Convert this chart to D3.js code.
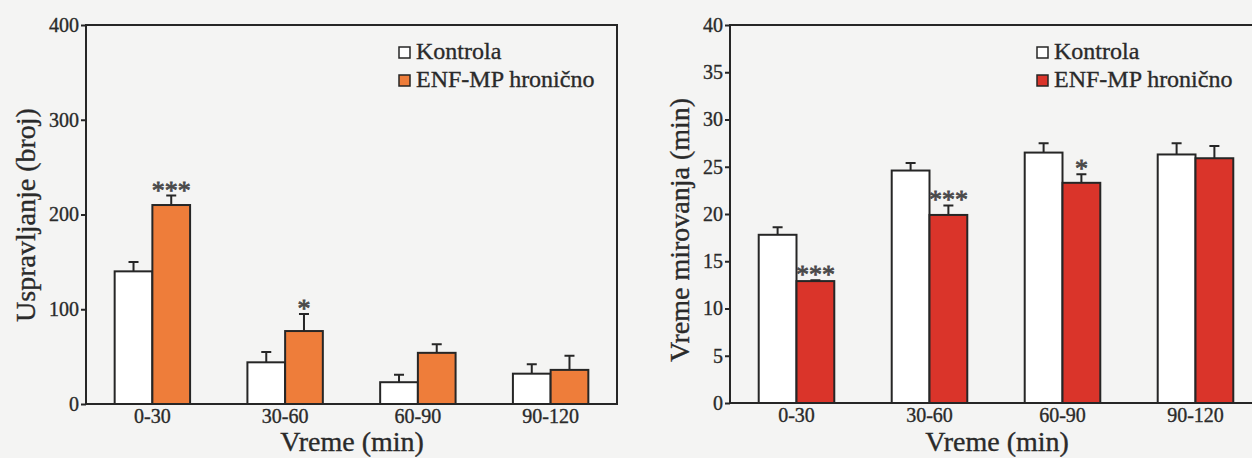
<!DOCTYPE html>
<html>
<head>
<meta charset="utf-8">
<script src="https://cdn.jsdelivr.net/npm/d3@7"></script>
<style>
  body { margin: 0; background: #f4f4f3; }
  svg { display: block; }
  text { font-family: "Liberation Serif", "Tinos", "Times New Roman", "DejaVu Serif", serif; fill: #2a2a2a; stroke: #2a2a2a; stroke-width: 0.35px; }
</style>
</head>
<body>
<script>
// data
const categories = ["0-30", "30-60", "60-90", "90-120"];
const seriesNames = ["Kontrola", "ENF-MP hronično"];

const rearingControl = [140, 44, 23, 32];
const rearingControlErr = [10, 11, 8, 10];
const rearingEnf = [210, 77, 54, 36];
const rearingEnfErr = [10, 18, 9, 15];
const rearingStars = ["***", "*", "", ""];
const rearingTicks = [0, 100, 200, 300, 400];

const immobControl = [17.8, 24.6, 26.5, 26.3];
const immobControlErr = [0.8, 0.8, 1.0, 1.2];
const immobEnf = [12.9, 19.9, 23.3, 25.9];
const immobEnfErr = [0.1, 1.0, 0.9, 1.3];
const immobStars = ["***", "***", "*", ""];
const immobTicks = [0, 5, 10, 15, 20, 25, 30, 35, 40];

const ink = "#262626";
const white = "#ffffff";

const svg = d3.select("body")
    .append("svg")
    .attr("width", 1252)
    .attr("height", 458);

const drawPanel = (p) => {
    const x0 = d3.scaleBand()
        .domain(categories)
        .range([p.left, p.right])
        .paddingInner(0)
        .paddingOuter(0);
    const x1 = d3.scaleBand()
        .domain([0, 1])
        .range([0, x0.bandwidth()])
        .paddingInner(0)
        .paddingOuter(0.76);
    const y = d3.scaleLinear()
        .domain([0, p.yMax])
        .range([p.bottom, p.top]);

    const g = svg.append("g");

    // bars
    const groups = [
        { vals: p.control, errs: p.controlErr, fill: white },
        { vals: p.enf, errs: p.enfErr, fill: p.colour }
    ];
    groups.forEach((s, si) => {
        const rows = categories.map((c, i) => ({ c, v: s.vals[i], e: s.errs[i], star: si === 1 ? p.stars[i] : "" }));
        const cx = d => x0(d.c) + x1(si) + x1.bandwidth() / 2;

        // error bars first so the bar outline sits on top
        g.selectAll(null)
            .data(rows)
            .enter()
            .append("path")
            .attr("d", d => `M${cx(d)},${y(d.v)}V${y(d.v + d.e)}M${cx(d) - 5},${y(d.v + d.e)}H${cx(d) + 5}`)
            .attr("stroke", ink)
            .attr("stroke-width", 2)
            .attr("fill", "none");

        g.selectAll(null)
            .data(rows)
            .enter()
            .append("rect")
            .attr("x", d => x0(d.c) + x1(si))
            .attr("y", d => y(d.v))
            .attr("width", x1.bandwidth())
            .attr("height", d => y(0) - y(d.v))
            .attr("fill", s.fill)
            .attr("stroke", ink)
            .attr("stroke-width", 2);

        g.selectAll(null)
            .data(rows.filter(d => d.star))
            .enter()
            .append("text")
            .attr("x", cx)
            .attr("y", d => y(d.v + d.e) + 3)
            .attr("text-anchor", "middle")
            .attr("font-size", 26)
            .style("fill", "#4a4a4a")
            .style("stroke", "#4a4a4a")
            .style("stroke-width", "0.8px")
            .text(d => d.star);
    });

    // frame
    g.append("rect")
        .attr("x", p.left)
        .attr("y", p.top)
        .attr("width", p.right - p.left)
        .attr("height", p.bottom - p.top)
        .attr("fill", "none")
        .attr("stroke", ink)
        .attr("stroke-width", 2);

    const yAxis = d3.axisLeft(y)
        .tickValues(p.ticks)
        .tickSize(5)
        .tickSizeOuter(0)
        .tickPadding(2);
    const yAxisGroup = g.append("g")
        .attr("transform", `translate(${p.left}, 0)`)
        .call(yAxis);
    yAxisGroup.select(".domain").remove();
    yAxisGroup.selectAll("line").attr("stroke", ink).attr("stroke-width", 2);
    yAxisGroup.selectAll("text")
        .attr("font-size", 20)
        .attr("fill", null);

    const xAxis = d3.axisBottom(x0).tickSize(0).tickSizeOuter(0);
    const xAxisGroup = g.append("g")
        .attr("transform", `translate(0, ${p.bottom})`)
        .call(xAxis);
    xAxisGroup.select(".domain").remove();
    xAxisGroup.selectAll("text")
        .attr("y", 19)
        .attr("dy", 0)
        .attr("font-size", 20)
        .attr("fill", null);

    // axis titles
    g.append("text")
        .attr("x", p.xTitleX)
        .attr("y", 451)
        .attr("text-anchor", "middle")
        .attr("font-size", 28)
        .text("Vreme (min)");
    g.append("text")
        .attr("transform", `translate(${p.yTitleX}, ${p.yTitleY}) rotate(-90)`)
        .attr("text-anchor", "middle")
        .attr("font-size", 28)
        .text(p.yTitle);

    // legend
    const legend = g.append("g")
        .attr("transform", `translate(${p.legendX}, 47)`);
    [white, p.colour].forEach((fill, i) => {
        legend.append("rect")
            .attr("x", 0)
            .attr("y", i * 28)
            .attr("width", 11)
            .attr("height", 11)
            .attr("fill", fill)
            .attr("stroke", ink)
            .attr("stroke-width", 1.5);
        legend.append("text")
            .attr("x", 17)
            .attr("y", i * 28 + 12)
            .attr("font-size", 24)
            .text(seriesNames[i]);
    });
};

drawPanel({
    left: 86, right: 617, top: 25, bottom: 404,
    yMax: 400, ticks: rearingTicks,
    control: rearingControl, controlErr: rearingControlErr,
    enf: rearingEnf, enfErr: rearingEnfErr, stars: rearingStars,
    colour: "#ee7d3a",
    yTitle: "Uspravljanje (broj)", yTitleX: 35, yTitleY: 215,
    xTitleX: 352, legendX: 399
});

drawPanel({
    left: 730, right: 1262, top: 25, bottom: 403,
    yMax: 40, ticks: immobTicks,
    control: immobControl, controlErr: immobControlErr,
    enf: immobEnf, enfErr: immobEnfErr, stars: immobStars,
    colour: "#da342a",
    yTitle: "Vreme mirovanja (min)", yTitleX: 689, yTitleY: 230,
    xTitleX: 997, legendX: 1037
});
</script>
</body>
</html>
